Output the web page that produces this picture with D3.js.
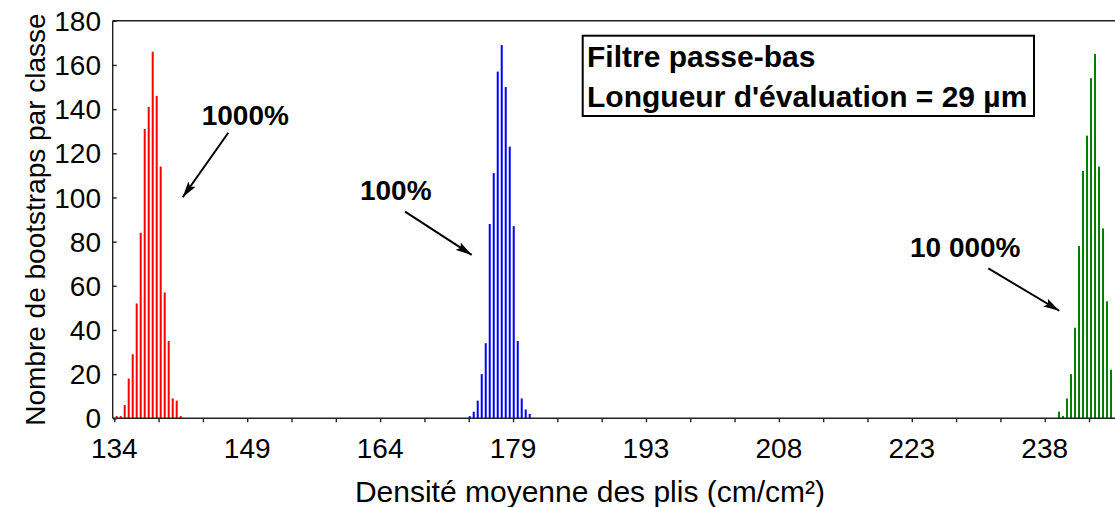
<!DOCTYPE html>
<html>
<head>
<meta charset="utf-8">
<script src="https://cdn.jsdelivr.net/npm/d3@7/dist/d3.min.js"></script>
<style>
  html, body { margin: 0; padding: 0; background: #fff; }
  svg { display: block; }
  text { font-family: "Liberation Sans", Arial, sans-serif; fill: #000; }
</style>
</head>
<body>
<svg id="chart" width="1115" height="507"></svg>
<script>
// Bootstrap histograms of the mean fold density, one per filter setting
const binWidth = 0.4471;               // class width (cm/cm²)

const redStart = 134.27;               // first class centre, 1000%
const redCounts = [1, 1, 6, 18, 29, 52, 84, 131, 141, 166, 146, 114, 57, 35, 9, 8, 1];

const blueStart = 173.73;              // first class centre, 100%
const blueCounts = [1, 3, 8, 20, 34, 88, 111, 157, 169, 150, 123, 87, 35, 9, 4, 2];

const greenStart = 239.60;             // first class centre, 10 000%
const greenCounts = [3, 1, 9, 20, 41, 78, 112, 128, 154, 165, 114, 86, 53, 22];

const xMin = 134, xMax = 238;
const xTickLabels = ["134", "149", "164", "179", "193", "208", "223", "238"];
const xMinorPerMajor = 3;
const yTicks = [0, 20, 40, 60, 80, 100, 120, 140, 160, 180];

const annotations = [
  { text: "1000%",   tx: 143.77, ty: 132.8, x1: 146.74, y1: 129.3, x2: 141.65, y2: 100.1 },
  { text: "100%",    tx: 161.46, ty: 98.9,  x1: 166.50, y1: 93.6,  x2: 173.95, y2: 74.0 },
  { text: "10 000%", tx: 222.94, ty: 73.2,  x1: 231.70, y1: 67.9,  x2: 239.63, y2: 48.7 }
];

const legendLines = ["Filtre passe-bas", "Longueur d'évaluation = 29 µm"];

const series = [
  { start: redStart,   counts: redCounts,   color: "#ff0000" },
  { start: blueStart,  counts: blueCounts,  color: "#0000ff" },
  { start: greenStart, counts: greenCounts, color: "#008000" }
];

const svg = d3.select("#chart");
const plotLeft = 112.7, plotRight = 1117, plotTop = 20.8, plotBottom = 418.3;

const x = d3.scaleLinear().domain([xMin, xMax]).range([114.3, 1044.7]);
const y = d3.scaleLinear().domain([0, 180]).range([plotBottom, plotTop]);

// labelled ticks are evenly spread between xMin and xMax, with unlabelled ones between them
const nMajor = xTickLabels.length - 1;
const majorStep = (xMax - xMin) / nMajor;
const minorStep = majorStep / xMinorPerMajor;
const majorTicks = xTickLabels.map((t, i) => xMin + i * majorStep);
const minorTicks = d3.range(0, nMajor * xMinorPerMajor + 2).map(j => xMin + j * minorStep);

// arrowhead
svg.append("defs").append("marker")
  .attr("id", "head")
  .attr("viewBox", "0 0 16 10")
  .attr("refX", 16).attr("refY", 5)
  .attr("markerWidth", 16).attr("markerHeight", 10)
  .attr("markerUnits", "userSpaceOnUse")
  .attr("orient", "auto")
  .append("path")
  .attr("d", "M0,0.5 L16,5 L0,9.5 L3,5 Z")
  .attr("fill", "#000");

// bars
const barPx = (x(binWidth) - x(0)) * 0.5;
series.forEach(s => {
  svg.append("g")
    .selectAll("rect")
    .data(s.counts)
    .join("rect")
    .attr("x", (d, i) => x(s.start + i * binWidth) - barPx / 2)
    .attr("width", barPx)
    .attr("y", d => y(d))
    .attr("height", d => y(0) - y(d))
    .attr("fill", s.color);
});

// frame
const frame = svg.append("g").attr("stroke", "#222").attr("stroke-width", 1.4).attr("fill", "none");
frame.append("line").attr("x1", plotLeft).attr("x2", plotRight).attr("y1", plotTop).attr("y2", plotTop);
frame.append("line").attr("x1", plotLeft).attr("x2", plotLeft).attr("y1", plotTop).attr("y2", plotBottom);
frame.append("line").attr("x1", plotLeft).attr("x2", plotRight).attr("y1", plotBottom).attr("y2", plotBottom);

// y axis: inward ticks
const yAxis = svg.append("g").attr("transform", `translate(${plotLeft},0)`)
  .call(d3.axisRight(y).tickValues(yTicks).tickSize(4).tickFormat(""));
yAxis.select(".domain").remove();
yAxis.selectAll("line").attr("stroke", "#222").attr("stroke-width", 1.4);

svg.append("g").selectAll("text")
  .data(yTicks)
  .join("text")
  .attr("x", 101)
  .attr("y", d => y(d))
  .attr("dy", "0.36em")
  .attr("text-anchor", "end")
  .attr("font-size", 28)
  .text(d => d);

// x axis: outward ticks and labels
const xAxis = svg.append("g").attr("transform", `translate(0,${plotBottom})`)
  .call(d3.axisBottom(x).tickValues(minorTicks).tickSize(4).tickFormat(""));
xAxis.select(".domain").remove();
xAxis.selectAll("line").attr("stroke", "#222").attr("stroke-width", 1.4);

svg.append("g").selectAll("text")
  .data(majorTicks)
  .join("text")
  .attr("x", d => x(d))
  .attr("y", 458)
  .attr("text-anchor", "middle")
  .attr("font-size", 28)
  .text((d, i) => xTickLabels[i]);

// axis titles
svg.append("text")
  .attr("x", 590).attr("y", 502)
  .attr("text-anchor", "middle")
  .attr("font-size", 30)
  .text("Densité moyenne des plis (cm/cm²)");

svg.append("text")
  .attr("transform", `translate(45,${(plotTop + plotBottom) / 2}) rotate(-90)`)
  .attr("text-anchor", "middle")
  .attr("font-size", 28)
  .text("Nombre de bootstraps par classe");

// annotations
const ann = svg.append("g");
annotations.forEach(a => {
  ann.append("text")
    .attr("x", x(a.tx)).attr("y", y(a.ty))
    .attr("font-size", 28).attr("font-weight", "bold")
    .text(a.text);
  ann.append("line")
    .attr("x1", x(a.x1)).attr("y1", y(a.y1))
    .attr("x2", x(a.x2)).attr("y2", y(a.y2))
    .attr("stroke", "#000").attr("stroke-width", 2)
    .attr("marker-end", "url(#head)");
});

// legend box
const lg = svg.append("g");
lg.append("rect")
  .attr("x", 582.7).attr("y", 35.7)
  .attr("width", 1034 - 582.7).attr("height", 116 - 35.7)
  .attr("fill", "#fff").attr("stroke", "#000").attr("stroke-width", 2);
lg.selectAll("text.leg")
  .data(legendLines)
  .join("text")
  .attr("class", "leg")
  .attr("x", 587)
  .attr("y", (d, i) => 67 + i * 39.5)
  .attr("font-size", 30).attr("font-weight", "bold")
  .text(d => d);
</script>
</body>
</html>
